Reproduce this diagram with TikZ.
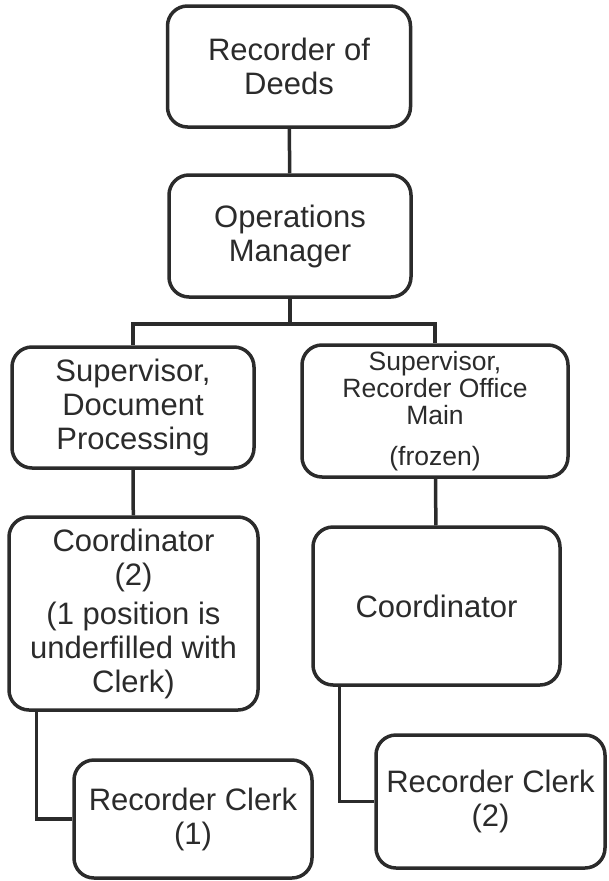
\documentclass[tikz,border=0pt]{standalone}
\usepackage{fontspec}
\setmainfont{Liberation Sans}
\usepackage{xcolor}
\definecolor{ink}{HTML}{2B2B2B}
\tikzstyle{link} = [line width=3.5pt, draw=ink]

\begin{document}
\begin{tikzpicture}[
    x=1pt, y=-1pt,
    post/.style={draw=ink, line width=3.5pt, rounded corners=20pt, align=center,
      inner sep=0pt, text=ink, font=\fontsize{31}{34}\selectfont},
    small/.style={font=\fontsize{26.5}{27}\selectfont},
  ]
  \useasboundingbox (0,0) rectangle (608,881);

  % top of the office
  \node[post, minimum width=243pt, minimum height=121pt] (deeds) at (289,66.5) {Recorder of\\Deeds};
  \node[post, minimum width=242pt, minimum height=122pt] (ops) at (290,236) {Operations\\Manager};

  % the two sections
  \node[post, minimum width=242pt, minimum height=121pt] (supdoc) at (133,407.5) {Supervisor,\\Document\\Processing};
  \node[post, small, minimum width=266pt, minimum height=132pt] (supmain) at (435,411) {Supervisor,\\Recorder Office\\Main\\[14pt](frozen)};

  \node[post, minimum width=249pt, minimum height=193pt] (coordl) at (133.5,613.5) {Coordinator\\(2)\\[5pt](1 position is\\underfilled with\\Clerk)};
  \node[post, minimum width=247pt, minimum height=158pt] (coordr) at (436.5,606) {Coordinator};

  \node[post, minimum width=238pt, minimum height=118pt] (clerkl) at (193,819) {Recorder Clerk\\(1)};
  \node[post, minimum width=229pt, minimum height=133pt] (clerkr) at (490.5,801.5) {Recorder Clerk\\(2)};

  % reporting lines
  \draw[link] (deeds) -- (ops);
  \draw[link] (ops.south) -- ++(0,25) -| (supdoc.north);
  \draw[link] (ops.south) -- ++(0,25) -| (supmain.north);
  \draw[link] (supdoc) -- (coordl);
  \draw[link] (supmain) -- (coordr);
  \draw[link] ([xshift=29pt]coordl.south west) |- (clerkl.west);
  \draw[link] ([xshift=28pt]coordr.south west) |- (clerkr.west);
\end{tikzpicture}
\end{document}
